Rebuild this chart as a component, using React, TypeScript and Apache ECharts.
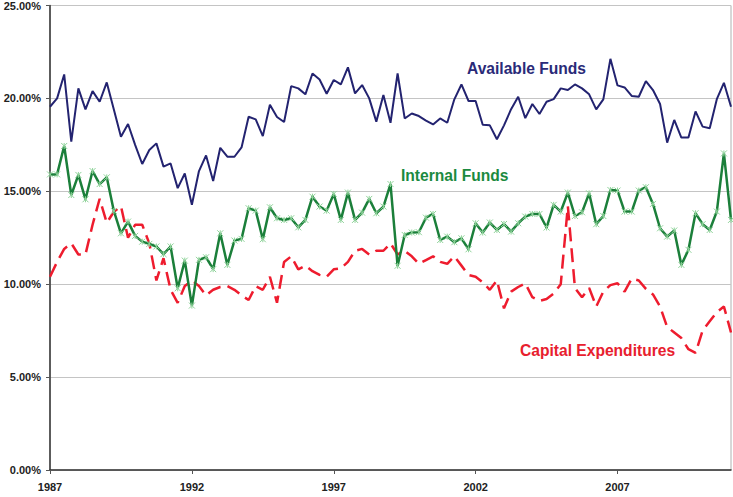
import React, { useEffect, useRef } from "react";
import * as echarts from "echarts";

// Quarterly data, 1987 Q1 .. 2011 Q1 (percent)
const availableFunds: number[] = [
  19.55, 20.0, 21.29, 17.67, 20.54, 19.41, 20.39, 19.82, 20.86, 19.4,
  17.94, 18.62, 17.5, 16.47, 17.22, 17.58, 16.33, 16.5, 15.17, 15.96,
  14.28, 16.09, 16.93, 15.55, 17.34, 16.86, 16.86, 17.36, 19.01, 18.87,
  17.97, 19.66, 19.0, 18.73, 20.66, 20.54, 20.22, 21.34, 21.02, 20.25,
  20.99, 20.75, 21.67, 20.27, 20.72, 20.0, 18.75, 20.18, 18.69, 21.34,
  18.92, 19.19, 19.05, 18.8, 18.6, 18.92, 18.69, 19.95, 20.75, 19.86,
  19.86, 18.58, 18.55, 17.8, 18.55, 19.42, 20.09, 18.94, 19.7, 19.16,
  19.82, 19.96, 20.54, 20.45, 20.75, 20.54, 20.22, 19.41, 19.95, 22.13,
  20.7, 20.59, 20.13, 20.09, 20.93, 20.45, 19.7, 17.62, 18.84, 17.89,
  17.89, 19.3, 18.48, 18.39, 19.96, 20.84, 19.55,
];

const internalFunds: number[] = [
  15.91, 15.91, 17.44, 14.8, 15.88, 14.57, 16.09, 15.39, 15.75, 13.94,
  12.74, 13.37, 12.6, 12.29, 12.17, 12.03, 11.62, 12.03, 9.78, 11.27,
  8.85, 11.31, 11.45, 10.81, 12.74, 11.04, 12.35, 12.44, 14.09, 13.96,
  12.42, 14.14, 13.55, 13.46, 13.55, 13.06, 13.46, 14.71, 14.18, 13.96,
  14.86, 13.46, 14.93, 13.46, 13.85, 14.59, 13.82, 14.18, 15.39, 10.99,
  12.65, 12.78, 12.8, 13.58, 13.78, 12.38, 12.56, 12.26, 12.47, 11.88,
  13.28, 12.78, 13.32, 12.92, 13.24, 12.83, 13.28, 13.64, 13.78, 13.78,
  13.05, 14.27, 13.91, 14.93, 13.67, 13.87, 14.89, 13.23, 13.67, 15.07,
  15.04, 13.91, 13.91, 15.04, 15.22, 14.32, 13.01, 12.56, 12.89, 11.04,
  11.85, 13.82, 13.23, 12.92, 13.91, 17.04, 13.46,
];

const capitalExpenditures: number[] = [
  10.4, 11.2, 11.9, 12.2, 11.6, 11.6, 13.2, 14.6, 13.3, 13.9,
  14.2, 12.5, 13.2, 13.2, 12.2, 10.2, 11.4, 9.7, 9.0, 9.9,
  10.2, 9.9, 9.4, 9.7, 9.85, 9.9, 9.7, 9.4, 9.15, 9.9,
  9.7, 10.4, 9.0, 11.2, 11.5, 10.8, 11.0, 10.7, 10.5, 10.4,
  10.8, 10.85, 11.2, 11.8, 11.9, 11.6, 11.8, 11.8, 12.2, 11.6,
  11.8, 11.5, 11.1, 11.3, 11.5, 11.2, 11.1, 11.5, 11.0, 10.5,
  10.4, 10.1, 9.7, 10.2, 8.7, 9.6, 9.85, 10.05, 9.3, 9.1,
  9.2, 9.5, 10.0, 14.2, 9.8, 9.3, 9.8, 8.8, 9.6, 9.95,
  10.05, 9.6, 10.3, 10.2, 9.75, 9.45, 8.8, 7.7, 7.4, 7.1,
  6.5, 6.3, 7.5, 8.0, 8.5, 8.8, 7.4,
];

const startYear = 1987;
const quarters: string[] = availableFunds.map(
  (_, i) => `${startYear + Math.floor(i / 4)} Q${(i % 4) + 1}`
);
const labelEvery = 20; // one label every 5 years

const yTicks = { min: 0, max: 25, interval: 5 };

const FONT = "'Liberation Sans', Arial, Helvetica, sans-serif";

export default function App() {
  const ref = useRef<HTMLDivElement>(null);

  useEffect(() => {
    if (!ref.current) return;
    const chart = echarts.init(ref.current, null, { renderer: "svg" });
    const everyFive = (i: number) => i % labelEvery === 0;
    chart.setOption({
      animation: false,
      backgroundColor: "#ffffff",
      grid: {
        left: 50,
        right: 2,
        top: 5,
        bottom: 27,
        show: true,
        borderColor: "#b0b0b0",
        borderWidth: 1,
        containLabel: false,
      },
      xAxis: {
        type: "category",
        data: quarters,
        boundaryGap: false,
        axisLine: { show: true, lineStyle: { color: "#333333", width: 1.5 } },
        axisTick: {
          show: true,
          interval: everyFive,
          length: 4,
          lineStyle: { color: "#555555" },
        },
        axisLabel: {
          interval: everyFive,
          formatter: (v: string) => v.slice(0, 4),
          fontFamily: FONT,
          fontWeight: "bold",
          fontSize: 11,
          color: "#222222",
          margin: 11,
        },
        splitLine: { show: false },
      },
      yAxis: {
        type: "value",
        min: yTicks.min,
        max: yTicks.max,
        interval: yTicks.interval,
        axisLine: { show: true, lineStyle: { color: "#333333", width: 1.5 } },
        axisTick: { show: true, length: 4, lineStyle: { color: "#555555" } },
        axisLabel: {
          formatter: (v: number) => v.toFixed(2) + "%",
          fontFamily: FONT,
          fontWeight: "bold",
          fontSize: 11,
          color: "#222222",
          margin: 9,
        },
        splitLine: { show: true, lineStyle: { color: "#c4c4c4", width: 1 } },
      },
      series: [
        {
          name: "Capital Expenditures",
          type: "line",
          data: capitalExpenditures,
          showSymbol: false,
          symbol: "none",
          lineStyle: { color: "#ee1c2e", width: 2.5, type: [14, 7] },
          z: 2,
        },
        {
          name: "Internal Funds",
          type: "line",
          data: internalFunds,
          symbol: "path://M0,0L10,10M10,0L0,10M5,0L5,10",
          symbolSize: 6,
          showSymbol: true,
          showAllSymbol: true,
          itemStyle: {
            color: "#8fd39a",
            borderColor: "#8fd39a",
            borderWidth: 1,
          },
          lineStyle: { color: "#1b7f3a", width: 2.5 },
          z: 3,
        },
        {
          name: "Available Funds",
          type: "line",
          data: availableFunds,
          showSymbol: false,
          symbol: "none",
          lineStyle: { color: "#232370", width: 2 },
          z: 4,
        },
      ],
      graphic: [
        {
          type: "text",
          x: 467,
          y: 68,
          style: {
            text: "Available Funds",
            fill: "#2a2a78",
            font: `bold 15.6px ${FONT}`,
            align: "left",
            verticalAlign: "middle",
          },
        },
        {
          type: "text",
          x: 401,
          y: 175,
          style: {
            text: "Internal Funds",
            fill: "#1b8a40",
            font: `bold 15.6px ${FONT}`,
            align: "left",
            verticalAlign: "middle",
          },
        },
        {
          type: "text",
          x: 520,
          y: 350,
          style: {
            text: "Capital Expenditures",
            fill: "#e8202e",
            font: `bold 15.6px ${FONT}`,
            align: "left",
            verticalAlign: "middle",
          },
        },
      ],
    });
    return () => chart.dispose();
  }, []);

  return (
    <div
      ref={ref}
      style={{ position: "fixed", left: 0, top: 0, width: 733, height: 497 }}
    />
  );
}
